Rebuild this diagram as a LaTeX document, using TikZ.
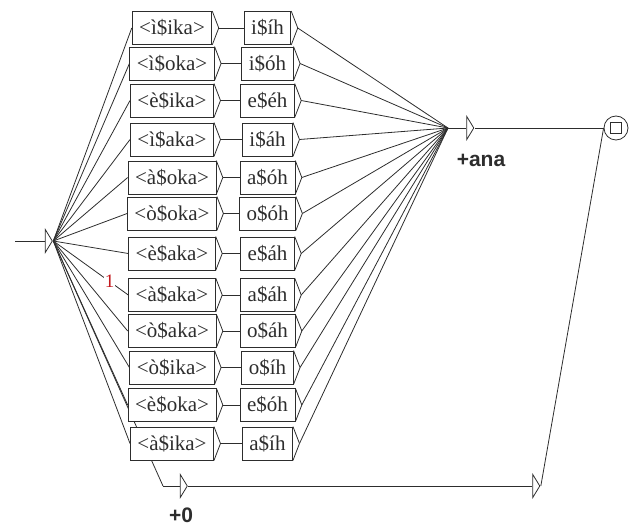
\documentclass[tikz,border=0pt]{standalone}
\usepackage{fontspec}
\setmainfont{Liberation Serif}
\newfontfamily\outfont{Liberation Sans}
\usetikzlibrary{positioning, shapes.geometric}
\definecolor{graphline}{RGB}{45,45,45}
\definecolor{commentred}{RGB}{195,25,30}
\tikzset{
  every path/.append style={line width=0.8pt}, % thin lines as in the graph editor
  tok/.style={draw=graphline, fill=white, minimum height=33pt, inner xsep=7pt, inner ysep=0pt,
    font=\fontsize{21}{23}\selectfont,
    append after command={
      (\tikzlastnode.north east) edge ([xshift=6.5pt]\tikzlastnode.east)
      ([xshift=6.5pt]\tikzlastnode.east) edge (\tikzlastnode.south east)}}, % box with the little arrow on its right
  epsbox/.style={draw=graphline, isosceles triangle, isosceles triangle stretches,
    minimum width=23pt, minimum height=7pt, inner sep=0pt}, % empty box, only the triangle
  outlabel/.style={font=\outfont\bfseries\fontsize{21}{24}\selectfont}, % output under a box
  finalstate/.style={draw=graphline, circle, minimum size=24pt, inner sep=0pt,
    path picture={\draw[graphline] ([shift={(-5.5pt,-5.5pt)}]path picture bounding box.center)
      rectangle ([shift={(5.5pt,5.5pt)}]path picture bounding box.center);}},
  every edge/.style={draw=graphline},
}

\begin{document}
\begin{tikzpicture}[x=1pt, y=-1pt, on grid, graphline]
  \useasboundingbox (0,0) rectangle (632,527);

  \coordinate (start) at (15,241);
  \node[epsbox] (init) at (48.5,241) {};
  \coordinate (zin) at (163,486);
  \draw[graphline] (start) -- (init.west);
  \draw[graphline] (init.east) -- (zin); % runs under the last box

  \node[tok] (l1) at (172,28) {<ì\$ika>};
  \node[tok, right=95.5pt of l1] (r1) {i\$íh};
  \node[tok] (l2) at (172,63.5) {<ì\$oka>};
  \node[tok, right=95.5pt of l2] (r2) {i\$óh};
  \node[tok] (l3) at (172,100.5) {<è\$ika>};
  \node[tok, right=95.5pt of l3] (r3) {e\$éh};
  \node[tok] (l4) at (172,139.5) {<ì\$aka>};
  \node[tok, right=95.5pt of l4] (r4) {i\$áh};
  \node[tok] (l5) at (172,177.5) {<à\$oka>};
  \node[tok, right=95.5pt of l5] (r5) {a\$óh};
  \node[tok] (l6) at (172,213.5) {<ò\$oka>};
  \node[tok, right=95.5pt of l6] (r6) {o\$óh};
  \node[tok] (l7) at (172,253.5) {<è\$aka>};
  \node[tok, right=95.5pt of l7] (r7) {e\$áh};
  \node[tok] (l8) at (172,295) {<à\$aka>};
  \node[tok, right=95.5pt of l8] (r8) {a\$áh};
  \node[tok] (l9) at (172,331) {<ò\$aka>};
  \node[tok, right=95.5pt of l9] (r9) {o\$áh};
  \node[tok] (l10) at (172,367.5) {<ò\$ika>};
  \node[tok, right=95.5pt of l10] (r10) {o\$íh};
  \node[tok] (l11) at (172,405) {<è\$oka>};
  \node[tok, right=95.5pt of l11] (r11) {e\$óh};
  \node[tok] (l12) at (172,443.5) {<à\$ika>};
  \node[tok, right=95.5pt of l12] (r12) {a\$íh};

  \coordinate (join) at (448,128);
  \node[epsbox] (ana) at (470,128) {};
  \node[outlabel] at (481,160) {+ana};
  \node[finalstate] (fin) at (616,128) {};
  \node[epsbox] (zero) at (183.5,486) {};
  \node[outlabel] at (181,515) {+0};
  \node[epsbox] (last) at (536,486) {};

  % paths through the two columns
  \foreach \i in {1,...,12} {
    \draw (init.east) edge (l\i.west);
    \draw ([xshift=6.5pt]l\i.east) edge (r\i.west);
    \draw ([xshift=6.5pt]r\i.east) edge (join);
  }
  \path (init.east) -- node[pos=0.75, fill=white, inner sep=1pt, text=commentred,
    font=\fontsize{19}{20}\selectfont] {1} (l8.west);

  \draw (join) edge (ana.west);
  \draw (ana.east) edge (fin.west);
  \draw (zin) edge (zero.west);
  \draw (zero.east) edge (last.west);
  \draw (last.east) edge (fin.west);
\end{tikzpicture}
\end{document}
